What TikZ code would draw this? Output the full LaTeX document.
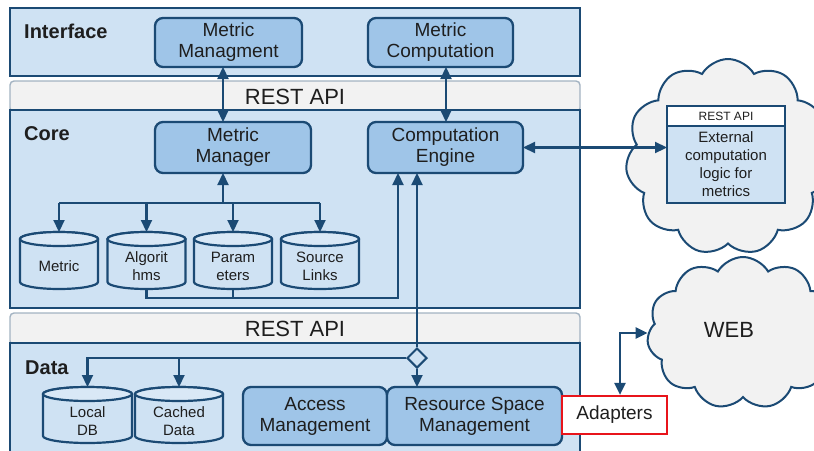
\documentclass[tikz,border=0pt]{standalone}
\usepackage{fontspec}
\setmainfont{Liberation Sans}
\usetikzlibrary{shapes.geometric,shapes.symbols,arrows.meta}
\definecolor{dblue}{HTML}{1B4A74}
\definecolor{layerfill}{HTML}{CFE2F3}
\definecolor{boxfill}{HTML}{9FC5E8}
\definecolor{cylfill}{HTML}{D9E8F6}
\definecolor{barfill}{HTML}{F2F2F2}
\definecolor{barline}{HTML}{A3B3C2}
\definecolor{cloudfill}{HTML}{F2F2F2}
\definecolor{adred}{HTML}{E8141B}
\definecolor{txt}{HTML}{1E1E1E}
\tikzset{
 every node/.style={text=txt},
 layer/.style={draw=dblue, fill=layerfill, line width=2.3pt, inner sep=0pt, outer sep=0pt, anchor=north west},
 restbar/.style={draw=barline, fill=barfill, line width=1.4pt, rounded corners=4pt, inner sep=0pt, outer sep=0pt, anchor=north west},
 bartext/.style={font=\fontsize{22}{24}\selectfont, inner sep=0pt},
 layerlabel/.style={font=\bfseries\fontsize{20}{22}\selectfont, anchor=base west, inner sep=0pt},
 comp/.style={draw=dblue, fill=boxfill, line width=2.3pt, rounded corners=8pt, align=center, font=\fontsize{19}{21}\selectfont, inner sep=0pt, outer sep=0pt},
 link/.style={draw=dblue, line width=2.2pt},
 arr/.style={link, -{Triangle[length=12pt,width=11pt]}},
 arrs/.style={link, {Triangle[length=12pt,width=11pt]}-},
 arrb/.style={link, {Triangle[length=12pt,width=11pt]}-{Triangle[length=12pt,width=11pt]}},
 cylbody/.style={draw=dblue, fill=layerfill, line width=2.2pt},
 cyltop/.style={draw=dblue, fill=cylfill, line width=2.2pt},
 cyltext/.style={align=center, font=\fontsize{15}{18}\selectfont, inner sep=0pt},
 cloudy/.style={cloud, cloud puffs=11, cloud puff arc=120, cloud ignores aspect, draw=dblue, fill=cloudfill, line width=2pt, inner sep=0pt},
 extbox/.style={draw=dblue, line width=2pt, minimum width=118pt, anchor=north west, inner sep=0pt, outer sep=0pt, align=center},
}
\newcommand\dbcyl[6]{%
 \path[cylbody] ({#2-#5},{#3+7}) -- ({#2-#5},{#4-7}) arc[start angle=180,end angle=360,x radius=#5pt,y radius=7pt] -- ({#2+#5},{#3+7}) arc[start angle=0,end angle=180,x radius=#5pt,y radius=7pt] -- cycle;
 \path[cyltop] (#2,{#3+7}) ellipse[x radius=#5pt,y radius=7pt];
 \coordinate (#1-top) at (#2,#3);
 \coordinate (#1-bot) at (#2,#4);
 \node[cyltext] (#1) at (#2,{(#3+#4)/2+6}) {#6};
}
\begin{document}
\begin{tikzpicture}[x=1pt,y=-1pt]
\useasboundingbox (0,0) rectangle (814,450);
% layers
\node[layer, minimum width=570pt, minimum height=68pt] (iface) at (10,8) {};
\node[restbar, minimum width=570pt, minimum height=31pt] (rest1) at (10,81) {};
\node[bartext] (rest1t) at (295,97) {REST API};
\node[layer, minimum width=570pt, minimum height=198pt] (core) at (10,110) {};
\node[restbar, minimum width=570pt, minimum height=32pt] (rest2) at (10,313) {};
\node[bartext] (rest2t) at (295,329) {REST API};
\node[layer, minimum width=570pt, minimum height=120pt] (data) at (10,343) {};
\node[layerlabel] (ifacel) at (24,38) {Interface};
\node[layerlabel] (corel) at (24,140) {Core};
\node[layerlabel] (datal) at (25,374) {Data};
% clouds
\node[cloudy, minimum width=205pt, minimum height=196pt] (cl1) at (728,157) {};
\node[cloudy, minimum width=192pt, minimum height=152pt] (web) at (743,333) {};
\node[font=\fontsize{22}{24}\selectfont, inner sep=0pt] (webt) at (729,330) {WEB};
% external box
\node[extbox, fill=white, minimum height=20pt, font=\fontsize{12}{14}\selectfont] (exthead) at (667,106) {REST API};
\node[extbox, fill=layerfill, minimum height=77pt, font=\fontsize{15}{18}\selectfont] (ext) at (667,126) {External\\computation\\logic for\\metrics};
% components
\node[comp, minimum width=147pt, minimum height=49pt] (mm) at (228.5,42.5) {Metric\\Managment};
\node[comp, minimum width=145pt, minimum height=49pt] (mc) at (440.5,42.5) {Metric\\Computation};
\node[comp, minimum width=156pt, minimum height=51pt] (mgr) at (233,147.5) {Metric\\Manager};
\node[comp, minimum width=155pt, minimum height=51pt] (ce) at (445.5,147.5) {Computation\\Engine};
\node[comp, minimum width=144pt, minimum height=58pt] (acc) at (315,416) {Access\\Management};
\node[comp, minimum width=175pt, minimum height=58pt] (rsm) at (474.5,416) {Resource Space\\Management};
\node[draw=adred, fill=white, line width=2.2pt, minimum width=105pt, minimum height=38pt, inner sep=0pt, font=\fontsize{19}{21}\selectfont] (adp) at (614.5,415) {Adapters};
% cylinders
\dbcyl{c1}{59}{232}{289}{39}{Metric}
\dbcyl{c2}{146.5}{232}{289}{39}{Algorit\\hms}
\dbcyl{c3}{233}{232}{289}{39}{Param\\eters}
\dbcyl{c4}{320}{232}{289}{39}{Source\\Links}
\dbcyl{d1}{87.5}{387}{443}{44.5}{Local\\DB}
\dbcyl{d2}{179}{387}{443}{44}{Cached\\Data}
% diamond
\node[diamond, draw=dblue, fill=layerfill, line width=2pt, minimum width=20pt, minimum height=20pt, inner sep=0pt] (dia) at (417,358) {};
% connectors
\draw[arrb] ([xshift=-5.5pt]mm.south) -- ([xshift=-10pt]mgr.north);
\draw[arrb] ([xshift=5.5pt]mc.south) -- ([xshift=0.5pt]ce.north);
\coordinate (mgrS) at ([xshift=-10pt]mgr.south);
\coordinate (tj) at (223,203);
\draw[arrs] (mgrS) -- (tj);
\draw[link] (c1-top |- tj) -- (c4-top |- tj);
\foreach \c in {c1,c2,c3,c4} \draw[arr] (\c-top |- tj) -- (\c-top);
\coordinate (ceA) at ([xshift=-47.5pt]ce.south);
\coordinate (ceB) at ([xshift=-28.5pt]ce.south);
\coordinate (bj) at (398,298);
\draw[arr] (c2-bot) |- (bj) -- (ceA);
\draw[link] (c3-bot) -- (c3-bot |- bj);
\draw[arrs] (ceB) -- (dia.north);
\draw[arr] (dia.west) -| (d1-top);
\draw[arr] (d2-top |- dia.west) -- (d2-top);
\draw[arr] (dia.south) -- (rsm.north -| dia.south);
\draw[arrb] (ce.east) -- (ext.west |- ce.east);
\coordinate (adN) at ([xshift=5.5pt]adp.north);
\draw[arrb] (adN) |- (web.west);
\end{tikzpicture}
\end{document}
